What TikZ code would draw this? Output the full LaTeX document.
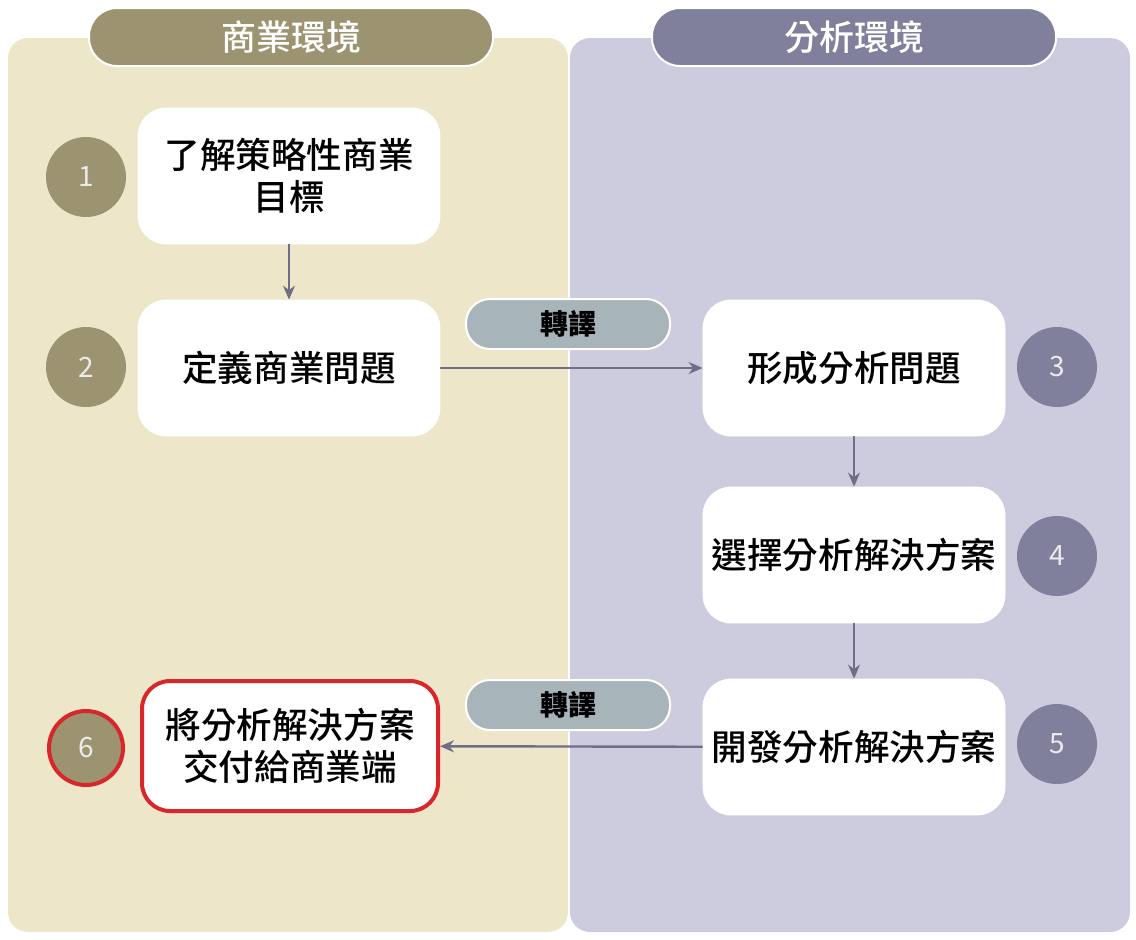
\documentclass[tikz,border=0pt]{standalone}
\usepackage{fontspec}
\setmainfont{Noto Sans CJK TC}
\newfontfamily\medfont{Noto Sans CJK TC Medium}
\usetikzlibrary{arrows.meta}
\definecolor{bizbg}{HTML}{EDE6C8}
\definecolor{anabg}{HTML}{CDCCDF}
\definecolor{bizhd}{HTML}{9C9470}
\definecolor{anahd}{HTML}{80809C}
\definecolor{tagbg}{HTML}{A7B4BA}
\definecolor{flow}{HTML}{6E6E88}
\definecolor{alert}{HTML}{D8262A}
\begin{document}
\begin{tikzpicture}[
    x=0.5pt, y=-0.5pt,
    card/.style={
        draw=white, fill=white, rounded corners=14pt, % white card
        minimum width=151pt, minimum height=68pt,
        align=center, font=\medfont\fontsize{17.8}{21}\selectfont
    },
    header/.style={
        draw=white, line width=1pt, rounded corners=14pt, text=white,
        minimum width=202pt, minimum height=29pt, font=\medfont\fontsize{17.5}{20}\selectfont
    },
    num/.style={circle, minimum size=40pt, text=white!92!black, font=\fontsize{14}{16}\selectfont},
    tag/.style={
        draw=white, line width=1pt, fill=tagbg, rounded corners=12pt,
        minimum width=102pt, minimum height=25pt, font=\bfseries\fontsize{14}{16}\selectfont
    },
    link/.style={draw=flow, line width=1.2pt, -{Stealth[length=7pt,width=6pt]}}
]
\useasboundingbox (0,0) rectangle (1136,939);

% two panels
\fill[bizbg, rounded corners=10pt] (8,38) rectangle (568,932);
\fill[anabg, rounded corners=10pt] (570,38) rectangle (1130,932);

% headers
\node[header, fill=bizhd] (bizhead) at (291,37) {商業環境};
\node[header, fill=anahd] (anahead) at (854,37) {分析環境};

% steps
\node[card] (s1) at (289,176) {了解策略性商業\\目標};
\node[card] (s2) at (289,368) {定義商業問題};
\node[card] (s3) at (854,368) {形成分析問題};
\node[card] (s4) at (854,555) {選擇分析解決方案};
\node[card] (s5) at (854,747) {開發分析解決方案};
\node[card, draw=alert, line width=2pt, minimum width=148pt, minimum height=65pt] (s6) at (290,746) {將分析解決方案\\交付給商業端};

% numbers
\node[num, fill=bizhd] (n1) at (86,177) {1};
\node[num, fill=bizhd] (n2) at (86,367) {2};
\node[num, fill=anahd] (n3) at (1057,367) {3};
\node[num, fill=anahd] (n4) at (1057,556) {4};
\node[num, fill=anahd] (n5) at (1057,744) {5};
\node[num, fill=bizhd, draw=alert, line width=2pt, minimum size=37pt] (n6) at (86,748) {6};

% tags
\node[tag] (t1) at (568,324) {轉譯};
\node[tag] (t2) at (568,705) {轉譯};

% flow
\draw[link] (s1) -- (s2);
\draw[link] (s2) -- (s3);
\draw[link] (s3) -- (s4);
\draw[link] (s4) -- (s5);
\draw[link] (s5) -- (s6);
\end{tikzpicture}
\end{document}
